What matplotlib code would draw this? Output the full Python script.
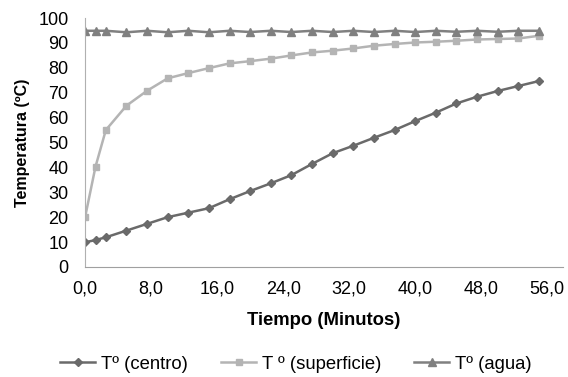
import matplotlib
matplotlib.use('Agg')
import matplotlib.pyplot as plt

plt.rcParams['font.family'] = ['Liberation Sans', 'DejaVu Sans']

# tiempo (minutos)
tiempo = [0, 1.25, 2.5, 5, 7.5, 10, 12.5, 15, 17.5, 20, 22.5, 25, 27.5, 30,
          32.5, 35, 37.5, 40, 42.5, 45, 47.5, 50, 52.5, 55]
t_centro = [9.9, 10.8, 11.9, 14.6, 17.3, 20.0, 21.8, 23.6, 27.2, 30.5, 33.6, 36.9,
            41.4, 45.7, 48.7, 51.9, 55.0, 58.6, 62.0, 65.7, 68.4, 70.7, 72.7, 74.7]
t_superficie = [20.2, 40.3, 55.0, 64.8, 70.8, 75.8, 77.9, 79.9, 81.8, 82.7, 83.7, 85.0,
                86.2, 86.9, 87.8, 88.9, 89.6, 90.2, 90.5, 90.9, 91.4, 91.6, 91.8, 92.9]
t_agua = [94.9, 94.9, 94.9, 94.3, 94.9, 94.3, 94.9, 94.3, 94.9, 94.4, 94.9, 94.4,
          94.9, 94.4, 94.9, 94.4, 94.9, 94.4, 94.9, 94.5, 94.9, 94.5, 94.9, 94.9]
xticks = [0, 8, 16, 24, 32, 40, 48, 56]

fig = plt.figure(figsize=(5.68, 3.77), dpi=100)
ax = fig.add_axes([0.15, 0.292, 0.841, 0.66])

ax.plot(tiempo, t_centro, color='#6a6a6a', marker='D', markersize=4.5, lw=1.8, label='Tº (centro)')
ax.plot(tiempo, t_superficie, color='#b4b4b4', marker='s', markersize=5, lw=1.8, label='T º (superficie)')
ax.plot(tiempo, t_agua, color='#808080', marker='^', markersize=6, lw=1.8, label='Tº (agua)')

ax.set_xlim(0, 57.9)
ax.set_ylim(0, 100)
ax.set_yticks(range(0, 101, 10))
ax.set_xticks(xticks)
ax.set_xticklabels([f'{v:.1f}'.replace('.', ',') for v in xticks])
ax.tick_params(length=0, labelsize=13)
ax.tick_params(axis='x', pad=10)
ax.tick_params(axis='y', pad=12)
for s in ['top', 'right']:
    ax.spines[s].set_visible(False)
ax.spines['left'].set_color('#b0b0b0')
ax.spines['bottom'].set_color('#a0a0a0')

ax.set_xlabel('Tiempo (Minutos)', fontsize=13.3, fontweight='bold')
ax.xaxis.set_label_coords(0.5, -0.215)
ax.xaxis.label.set_va('center')
ax.set_ylabel('Temperatura (ºC)', fontsize=11.5, fontweight='bold', labelpad=6)

# leyenda abajo
fig.legend(loc='center', bbox_to_anchor=(0.521, 0.034), ncol=3, frameon=False,
           fontsize=13.3, handlelength=1.9, handletextpad=0.3, columnspacing=1.8)

fig.savefig('out.png', dpi=100)
